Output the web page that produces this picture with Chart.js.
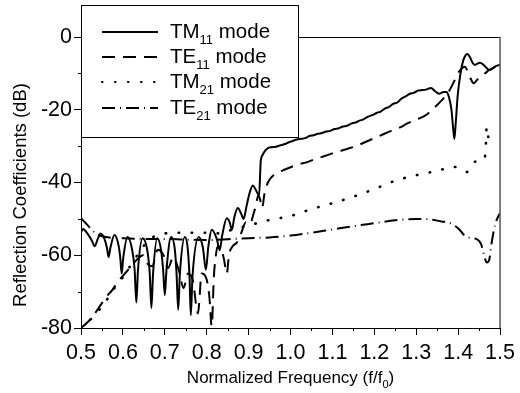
<!DOCTYPE html>
<html>
<head>
<meta charset="utf-8">
<script src="https://cdn.jsdelivr.net/npm/chart.js@4/dist/chart.umd.min.js"></script>
<style>
  body { margin: 0; background: #fff; }
  canvas { display: block; }
</style>
</head>
<body>
<canvas id="chart" width="520" height="393"></canvas>
<script>
// TM11 mode (solid)
const tm11F = [0.500, 0.505, 0.515, 0.526, 0.533, 0.540, 0.547, 0.556, 0.562, 0.566, 0.570, 0.580, 0.590, 0.594, 0.597, 0.601, 0.611, 0.622, 0.628, 0.632, 0.636, 0.647, 0.658, 0.664, 0.668, 0.672, 0.682, 0.691, 0.696, 0.700, 0.704, 0.715, 0.724, 0.728, 0.732, 0.736, 0.748, 0.755, 0.759, 0.762, 0.766, 0.781, 0.791, 0.798, 0.804, 0.812, 0.824, 0.831, 0.837, 0.848, 0.855, 0.860, 0.866, 0.874, 0.882, 0.888, 0.895, 0.902, 0.910, 0.916, 0.925, 0.929, 0.933, 0.940, 0.947, 0.955, 0.965, 0.975, 0.985, 0.995, 1.005, 1.015, 1.025, 1.035, 1.045, 1.055, 1.065, 1.075, 1.085, 1.095, 1.105, 1.115, 1.125, 1.135, 1.145, 1.155, 1.165, 1.175, 1.185, 1.195, 1.205, 1.215, 1.225, 1.235, 1.245, 1.255, 1.265, 1.275, 1.285, 1.295, 1.305, 1.315, 1.325, 1.335, 1.345, 1.355, 1.365, 1.372, 1.378, 1.384, 1.388, 1.391, 1.394, 1.399, 1.405, 1.412, 1.418, 1.422, 1.428, 1.434, 1.440, 1.446, 1.452, 1.460, 1.468, 1.474, 1.480, 1.490, 1.500];
const tm11Db = [-53.6, -52.8, -54.0, -56.0, -57.5, -55.5, -54.0, -55.5, -58.0, -60.5, -58.0, -54.4, -57.5, -61.0, -65.0, -60.5, -55.0, -58.5, -64.0, -73.0, -64.0, -55.3, -58.5, -65.0, -74.5, -65.0, -55.3, -58.5, -64.0, -71.0, -64.0, -55.0, -58.5, -65.0, -75.0, -65.0, -55.0, -58.5, -66.0, -76.5, -66.0, -55.0, -58.0, -64.0, -57.5, -53.0, -55.5, -58.6, -54.5, -49.8, -51.0, -53.0, -49.5, -47.0, -48.5, -50.0, -46.5, -43.0, -40.8, -41.8, -43.5, -34.0, -32.5, -31.2, -30.5, -30.3, -30.2, -29.8, -29.5, -29.0, -28.6, -28.2, -28.0, -27.8, -27.2, -27.0, -26.6, -26.4, -26.0, -25.8, -25.3, -25.1, -24.6, -24.4, -23.8, -23.5, -23.0, -22.6, -21.9, -21.5, -20.9, -20.5, -19.7, -19.2, -18.4, -18.0, -16.9, -16.3, -15.6, -15.3, -14.7, -14.6, -14.4, -14.0, -14.9, -15.6, -15.1, -15.1, -16.5, -20.0, -25.0, -28.0, -24.0, -16.0, -10.5, -6.5, -5.0, -4.7, -5.5, -7.0, -7.7, -7.3, -7.1, -7.6, -8.5, -9.1, -8.8, -8.0, -7.7];

// TE11 mode (dashed)
const te11F = [0.500, 0.515, 0.530, 0.545, 0.560, 0.575, 0.590, 0.605, 0.620, 0.635, 0.648, 0.660, 0.670, 0.683, 0.697, 0.708, 0.720, 0.733, 0.745, 0.755, 0.767, 0.779, 0.788, 0.798, 0.806, 0.812, 0.817, 0.821, 0.826, 0.834, 0.841, 0.848, 0.853, 0.862, 0.872, 0.882, 0.893, 0.903, 0.912, 0.918, 0.923, 0.927, 0.932, 0.938, 0.946, 0.955, 0.970, 0.985, 1.000, 1.020, 1.040, 1.060, 1.080, 1.100, 1.120, 1.140, 1.160, 1.180, 1.200, 1.220, 1.240, 1.260, 1.280, 1.300, 1.320, 1.340, 1.360, 1.375, 1.390, 1.400, 1.410, 1.416, 1.422, 1.430, 1.437, 1.445, 1.455, 1.465, 1.475, 1.488, 1.500];
const te11Db = [-80.0, -78.5, -76.5, -74.0, -71.5, -69.5, -67.0, -65.0, -63.0, -61.0, -60.0, -62.5, -63.0, -58.5, -60.0, -63.5, -60.5, -64.0, -69.0, -65.0, -67.0, -76.0, -65.0, -66.0, -71.0, -79.5, -66.0, -60.8, -57.5, -58.0, -61.0, -65.0, -60.0, -57.5, -56.5, -54.0, -51.0, -51.5, -48.5, -46.0, -43.5, -44.5, -47.0, -43.0, -40.0, -38.5, -37.3, -36.5, -35.8, -35.0, -34.4, -33.5, -32.8, -32.0, -31.3, -30.6, -29.8, -28.8, -27.8, -26.8, -25.8, -24.9, -23.7, -22.7, -21.7, -19.8, -17.5, -15.5, -12.3, -9.8, -8.5, -8.2, -9.3, -11.5, -12.7, -11.8, -10.8, -9.9, -9.0, -8.3, -7.7];

// TM21 mode (dotted)
const tm21F = [0.500, 0.520, 0.540, 0.560, 0.580, 0.600, 0.620, 0.640, 0.660, 0.680, 0.700, 0.750, 0.800, 0.830, 0.860, 0.900, 0.950, 1.000, 1.050, 1.100, 1.150, 1.200, 1.250, 1.300, 1.350, 1.390, 1.420, 1.445, 1.463, 1.466, 1.468, 1.472, 1.478, 1.484];
const tm21Db = [-80.0, -78.0, -75.5, -72.5, -69.0, -66.0, -62.5, -59.0, -56.0, -54.5, -54.0, -53.8, -53.8, -54.0, -53.0, -51.8, -50.3, -49.2, -47.3, -45.7, -43.9, -41.8, -39.5, -38.0, -36.8, -35.7, -37.1, -34.0, -33.5, -30.0, -24.7, -27.5, -28.0, -28.3];

// TE21 mode (dash-dot)
const te21F = [0.500, 0.510, 0.520, 0.535, 0.550, 0.600, 0.650, 0.700, 0.750, 0.800, 0.850, 0.900, 0.950, 1.000, 1.050, 1.100, 1.150, 1.200, 1.250, 1.300, 1.330, 1.360, 1.380, 1.400, 1.420, 1.443, 1.455, 1.463, 1.468, 1.474, 1.480, 1.488, 1.497, 1.500];
const te21Db = [-49.8, -51.0, -52.3, -54.0, -54.8, -55.3, -55.5, -55.5, -55.7, -55.8, -55.6, -55.3, -55.1, -54.6, -53.8, -52.9, -52.0, -51.2, -50.4, -50.0, -50.1, -50.7, -51.1, -52.6, -55.0, -55.5, -57.0, -60.5, -62.0, -61.3, -56.5, -51.7, -49.0, -48.5];

const seriesNames = ['TM', 'TE', 'TM', 'TE'];
const seriesSubs = ['11', '11', '21', '21'];
const seriesDashes = [[], [13, 8], [0.5, 12.5], [13, 5, 1, 5]];

const FONT = '"Liberation Sans", Arial, sans-serif';

function toPoints(f, db) {
  return f.map((v, i) => ({ x: v, y: db[i] }));
}

// draws text with a subscript part
function drawSubText(ctx, parts, x, y, size) {
  let cx = x;
  parts.forEach(([txt, sub]) => {
    ctx.font = (sub ? Math.round(size * 0.62) : size) + 'px ' + FONT;
    ctx.fillText(txt, cx, sub ? y + size * 0.42 : y);
    cx += ctx.measureText(txt).width;
  });
  return cx;
}

function subTextWidth(ctx, parts, size) {
  let w = 0;
  parts.forEach(([txt, sub]) => {
    ctx.font = (sub ? Math.round(size * 0.62) : size) + 'px ' + FONT;
    w += ctx.measureText(txt).width;
  });
  return w;
}

const decorations = {
  id: 'decorations',
  afterDraw(chart) {
    const { ctx, chartArea: a, scales: { x, y } } = chart;
    ctx.save();

    // minor ticks
    ctx.strokeStyle = '#000';
    ctx.lineWidth = 1;
    ctx.beginPath();
    for (let v = 0.55; v < 1.5; v += 0.1) {
      const px = Math.round(x.getPixelForValue(v)) + 0.5;
      ctx.moveTo(px, a.bottom);
      ctx.lineTo(px, a.bottom + 3);
    }
    for (let v = -70; v < 0; v += 20) {
      const py = Math.round(y.getPixelForValue(v)) + 0.5;
      ctx.moveTo(a.left, py);
      ctx.lineTo(a.left - 3, py);
    }
    ctx.stroke();

    // legend box
    const lx = 81, ly = 5, lw = 217, lh = 132;
    ctx.fillStyle = '#fff';
    ctx.fillRect(lx, ly, lw, lh);
    ctx.strokeStyle = '#000';
    ctx.lineWidth = 1;
    ctx.strokeRect(lx + 0.5, ly + 0.5, lw, lh);

    // top and right frame
    ctx.beginPath();
    ctx.moveTo(lx + lw, a.top + 0.5);
    ctx.lineTo(a.right, a.top + 0.5);
    ctx.stroke();
    ctx.strokeStyle = '#555';
    ctx.lineWidth = 1.5;
    ctx.beginPath();
    ctx.moveTo(a.right, a.top);
    ctx.lineTo(a.right, a.bottom);
    ctx.stroke();

    // legend entries
    const rowY = [32, 57, 82, 108];
    ctx.fillStyle = '#000';
    ctx.textBaseline = 'middle';
    ctx.textAlign = 'left';
    rowY.forEach((ry, i) => {
      ctx.strokeStyle = '#000';
      ctx.lineWidth = 2.2;
      ctx.lineCap = i === 2 ? 'round' : 'butt';
      ctx.setLineDash(seriesDashes[i]);
      ctx.beginPath();
      ctx.moveTo(102, ry);
      ctx.lineTo(158, ry);
      ctx.stroke();
      ctx.setLineDash([]);
      drawSubText(ctx, [[seriesNames[i], false], [seriesSubs[i], true], [' mode', false]], 170, ry, 20.5);
    });

    // axis titles
    const xParts = [['Normalized Frequency (f/f', false], ['0', true], [')', false]];
    const xw = subTextWidth(ctx, xParts, 17);
    drawSubText(ctx, xParts, (a.left + a.right) / 2 - xw / 2, 378, 17);

    ctx.translate(21, 195);
    ctx.rotate(-Math.PI / 2);
    ctx.textAlign = 'center';
    ctx.font = '18.5px ' + FONT;
    ctx.fillText('Reflection Coefficients (dB)', 0, 0);

    ctx.restore();
  }
};

const ctx = document.getElementById('chart');

new Chart(ctx, {
  type: 'line',
  data: {
    datasets: [
      { data: toPoints(tm11F, tm11Db), borderDash: seriesDashes[0] },
      { data: toPoints(te11F, te11Db), borderDash: seriesDashes[1] },
      { data: toPoints(tm21F, tm21Db), borderDash: seriesDashes[2], borderCapStyle: 'round', borderWidth: 2.6 },
      { data: toPoints(te21F, te21Db), borderDash: seriesDashes[3] }
    ].map(ds => Object.assign({
      borderColor: '#000',
      borderWidth: 2,
      pointRadius: 0,
      fill: false,
      cubicInterpolationMode: 'monotone'
    }, ds))
  },
  options: {
    responsive: false,
    animation: false,
    devicePixelRatio: 1,
    layout: { padding: { left: 0, top: 37, right: 16, bottom: 0 } },
    plugins: {
      legend: { display: false },
      tooltip: { enabled: false }
    },
    scales: {
      x: {
        type: 'linear',
        min: 0.5,
        max: 1.5,
        afterFit: s => { s.height = 65; },
        border: { color: '#000', width: 1 },
        grid: {
          drawOnChartArea: false,
          tickLength: 7,
          color: '#000'
        },
        ticks: {
          stepSize: 0.1,
          color: '#000',
          padding: 5,
          maxRotation: 0,
          autoSkip: false,
          font: { family: FONT, size: 21.5 },
          callback: v => v.toFixed(1)
        }
      },
      y: {
        min: -80,
        max: 0,
        afterFit: s => { s.width = 81; },
        border: { color: '#000', width: 1 },
        grid: {
          drawOnChartArea: false,
          tickLength: 7,
          color: '#000'
        },
        ticks: {
          stepSize: 20,
          color: '#000',
          padding: 2,
          font: { family: FONT, size: 21.5 }
        }
      }
    }
  },
  plugins: [decorations]
});
</script>
</body>
</html>
